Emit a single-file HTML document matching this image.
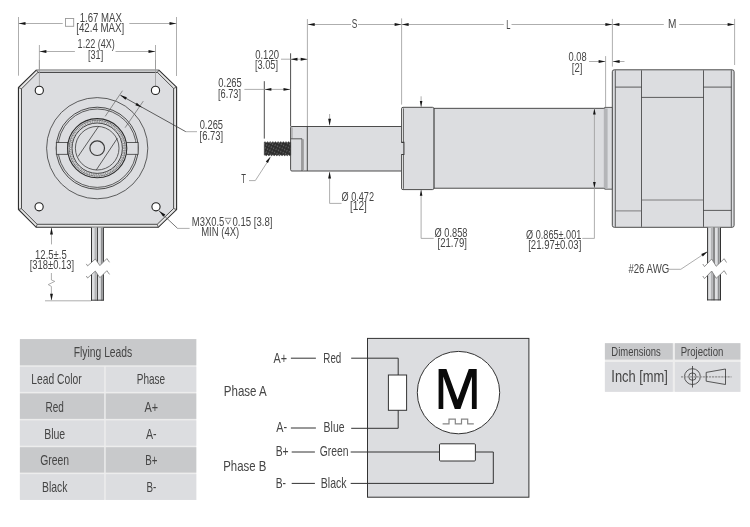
<!DOCTYPE html><html><head><meta charset="utf-8"><style>html,body{margin:0;padding:0;background:#fff;}svg{display:block;}text{font-family:"Liberation Sans",sans-serif;}svg{will-change:transform;}</style></head><body>
<svg width="750" height="527" viewBox="0 0 750 527">
<line x1="18.5" y1="17" x2="18.5" y2="75.7" stroke="#999999" stroke-width="0.8"/>
<line x1="176.5" y1="17" x2="176.5" y2="76" stroke="#999999" stroke-width="0.8"/>
<line x1="39.4" y1="45" x2="39.4" y2="86" stroke="#999999" stroke-width="0.8"/>
<line x1="155.5" y1="45" x2="155.5" y2="86" stroke="#999999" stroke-width="0.8"/>
<line x1="18.5" y1="23.5" x2="62.7" y2="23.5" stroke="#999999" stroke-width="0.8"/>
<line x1="129.3" y1="23.5" x2="176.5" y2="23.5" stroke="#999999" stroke-width="0.8"/>
<polygon points="18.70,23.50 25.50,22.05 25.50,24.95" fill="#151515"/>
<polygon points="176.30,23.50 169.50,24.95 169.50,22.05" fill="#151515"/>
<rect x="65.5" y="18.5" width="8.2" height="7.8" fill="none" stroke="#999999" stroke-width="0.9"/>
<text x="79.7" y="21.65" font-size="12.2" text-anchor="start" fill="#454545" textLength="42.2" lengthAdjust="spacingAndGlyphs">1.67 MAX</text>
<text x="76.2" y="32.2" font-size="12.2" text-anchor="start" fill="#454545" textLength="48.1" lengthAdjust="spacingAndGlyphs">[42.4 MAX]</text>
<line x1="39.4" y1="51.5" x2="74.9" y2="51.5" stroke="#999999" stroke-width="0.8"/>
<line x1="115.5" y1="51.5" x2="155.5" y2="51.5" stroke="#999999" stroke-width="0.8"/>
<polygon points="39.60,51.50 46.40,50.05 46.40,52.95" fill="#151515"/>
<polygon points="155.30,51.50 148.50,52.95 148.50,50.05" fill="#151515"/>
<text x="77.6" y="48.1" font-size="12.2" text-anchor="start" fill="#454545" textLength="37.3" lengthAdjust="spacingAndGlyphs">1.22 (4X)</text>
<text x="88" y="58.7" font-size="12.2" text-anchor="start" fill="#454545" textLength="15.2" lengthAdjust="spacingAndGlyphs">[31]</text>
<polygon points="36.5,69.9 158.6,69.9 176.6,87.2 176.6,209.6 158.3,227.3 36.2,227.3 18.45,209.4 18.45,87.6" fill="#e6e6e6"/>
<polygon points="36.5,69.7 158.6,69.7 157.6,72.5 37.8,72.5" fill="#c6c7c9"/>
<polyline points="36.5,69.9 18.45,87.6 18.45,209.4 36.2,227.3 158.3,227.3 176.6,209.6 176.6,87.2 158.6,69.9" fill="none" stroke="#2e2e2e" stroke-width="1.1" stroke-linejoin="miter"/>
<line x1="36.5" y1="69.9" x2="158.6" y2="69.9" stroke="#8c8c8c" stroke-width="1.0"/>
<polygon points="37.8,72.5 157.6,72.5 173.6,88.4 173.6,208.5 157.2,224.3 37.1,224.3 21.5,208.7 21.5,88.8" fill="#dcdde0" stroke="#3a3a3a" stroke-width="0.9"/>
<line x1="36.5" y1="69.9" x2="37.8" y2="72.5" stroke="#444" stroke-width="0.8"/>
<line x1="158.6" y1="69.9" x2="157.6" y2="72.5" stroke="#444" stroke-width="0.8"/>
<line x1="176.6" y1="87.2" x2="173.6" y2="88.4" stroke="#444" stroke-width="0.8"/>
<line x1="176.6" y1="209.6" x2="173.6" y2="208.5" stroke="#444" stroke-width="0.8"/>
<line x1="158.3" y1="227.3" x2="157.2" y2="224.3" stroke="#444" stroke-width="0.8"/>
<line x1="36.2" y1="227.3" x2="37.1" y2="224.3" stroke="#444" stroke-width="0.8"/>
<line x1="18.45" y1="209.4" x2="21.5" y2="208.7" stroke="#444" stroke-width="0.8"/>
<line x1="18.45" y1="87.6" x2="21.5" y2="88.8" stroke="#444" stroke-width="0.8"/>
<line x1="39.4" y1="60" x2="39.4" y2="86" stroke="#999999" stroke-width="0.8"/>
<line x1="155.5" y1="60" x2="155.5" y2="86" stroke="#999999" stroke-width="0.8"/>
<circle cx="39.3" cy="90.4" r="4.1" fill="#fff" stroke="#222" stroke-width="1.1"/>
<circle cx="155.5" cy="90.4" r="4.1" fill="#fff" stroke="#222" stroke-width="1.1"/>
<circle cx="39.1" cy="206.8" r="4.1" fill="#fff" stroke="#222" stroke-width="1.1"/>
<circle cx="156" cy="206.8" r="4.1" fill="#fff" stroke="#222" stroke-width="1.1"/>
<circle cx="97.2" cy="148.2" r="50.6" fill="none" stroke="#3a3a3a" stroke-width="0.8"/>
<circle cx="97.2" cy="148.2" r="41" fill="none" stroke="#3a3a3a" stroke-width="0.9"/>
<circle cx="97.2" cy="148.2" r="39.2" fill="none" stroke="#3a3a3a" stroke-width="0.8"/>
<rect x="56.3" y="142.5" width="11.5" height="11.8" fill="#dcdde0" stroke="#3a3a3a" stroke-width="0.8"/>
<rect x="126.6" y="142.5" width="11.5" height="11.8" fill="#dcdde0" stroke="#3a3a3a" stroke-width="0.8"/>
<circle cx="97.2" cy="148.2" r="29.6" fill="#dcdde0" stroke="#2e2e2e" stroke-width="1.1"/>
<circle cx="97.2" cy="148.2" r="27.9" fill="none" stroke="#333" stroke-width="0.9" stroke-dasharray="1.2 0.5"/>
<circle cx="97.2" cy="148.2" r="26.5" fill="none" stroke="#8a8a8a" stroke-width="1.3" stroke-dasharray="0.9 0.9"/>
<circle cx="97.2" cy="148.2" r="25.2" fill="none" stroke="#333" stroke-width="0.9"/>
<circle cx="97.2" cy="148.2" r="21.8" fill="none" stroke="#3a3a3a" stroke-width="0.8"/>
<circle cx="97.2" cy="148.2" r="7.3" fill="none" stroke="#3a3a3a" stroke-width="1.2"/>
<line x1="78.0" y1="156.6" x2="98.6" y2="126.4" stroke="#3a3a3a" stroke-width="0.8"/>
<line x1="96.2" y1="170.1" x2="117.4" y2="138.2" stroke="#3a3a3a" stroke-width="0.8"/>
<line x1="105.2" y1="116.4" x2="122.5" y2="90.7" stroke="#666" stroke-width="0.7"/>
<line x1="125.1" y1="127.7" x2="143.3" y2="101.1" stroke="#666" stroke-width="0.7"/>
<line x1="120.5" y1="95.3" x2="185.8" y2="131.7" stroke="#3a3a3a" stroke-width="0.8"/>
<line x1="185.8" y1="131.7" x2="197" y2="131.7" stroke="#999999" stroke-width="0.8"/>
<polygon points="120.20,95.10 126.84,97.15 125.43,99.68" fill="#151515"/>
<polygon points="142.00,107.40 135.36,105.35 136.77,102.82" fill="#151515"/>
<text x="199.7" y="128.9" font-size="12.4" text-anchor="start" fill="#454545" textLength="23.3" lengthAdjust="spacingAndGlyphs">0.265</text>
<text x="199.6" y="139.5" font-size="12.4" text-anchor="start" fill="#454545" textLength="23.6" lengthAdjust="spacingAndGlyphs">[6.73]</text>
<line x1="158.9" y1="210.8" x2="177.6" y2="228.4" stroke="#555" stroke-width="0.8"/>
<line x1="177.6" y1="228.4" x2="189.6" y2="228.4" stroke="#999999" stroke-width="0.8"/>
<polygon points="159.20,210.90 165.33,214.60 163.27,216.79" fill="#151515"/>
<text x="191.8" y="225.7" font-size="12.2" text-anchor="start" fill="#454545" textLength="32.5" lengthAdjust="spacingAndGlyphs">M3X0.5</text>
<path d="M224.9,218.3 h6.4 M225.6,219.6 l2.5,4.6 l2.5,-4.6" fill="none" stroke="#6a6a6a" stroke-width="0.8"/>
<text x="232.4" y="225.7" font-size="12.2" text-anchor="start" fill="#454545" textLength="40.1" lengthAdjust="spacingAndGlyphs">0.15 [3.8]</text>
<text x="201.2" y="236.1" font-size="12.2" text-anchor="start" fill="#454545" textLength="38" lengthAdjust="spacingAndGlyphs">MIN (4X)</text>
<line x1="51.5" y1="228" x2="51.5" y2="244.4" stroke="#999999" stroke-width="0.8"/>
<polygon points="51.50,227.60 52.95,234.40 50.05,234.40" fill="#151515"/>
<text x="50.9" y="259.2" font-size="12.2" text-anchor="middle" fill="#454545" textLength="31.6" lengthAdjust="spacingAndGlyphs">12.5±.5</text>
<text x="51.9" y="269.0" font-size="12.2" text-anchor="middle" fill="#454545" textLength="44.3" lengthAdjust="spacingAndGlyphs">[318±0.13]</text>
<polyline points="51.4,273 51.4,280 54.8,281.4 48.2,284.6 51.4,286.4 51.4,300" fill="none" stroke="#999999" stroke-width="0.8"/>
<polygon points="51.50,300.60 50.05,293.80 52.95,293.80" fill="#151515"/>
<line x1="45" y1="300.8" x2="91" y2="300.8" stroke="#999999" stroke-width="0.8"/>
<clipPath id="cc1"><polygon points="85.1,227.3 111.1,227.3 109.50,262.30 106.90,258.60 99.90,265.60 95.30,259.00 87.60,265.90 86.30,263.90"/><polygon points="86.30,276.00 87.60,278.00 95.30,271.10 99.90,277.70 106.90,270.70 109.50,274.40 111.1,302.6 85.1,302.6"/></clipPath>
<g clip-path="url(#cc1)">
<rect x="91.1" y="227.3" width="6.3" height="73.30000000000001" fill="#dedfe1"/>
<rect x="94.56" y="227.3" width="1.76" height="73.30000000000001" fill="#b3b4b6"/>
<rect x="97.39999999999999" y="227.3" width="6.3" height="73.30000000000001" fill="#dedfe1"/>
<rect x="100.86" y="227.3" width="1.76" height="73.30000000000001" fill="#8e8f91"/>
<line x1="91.5" y1="227.3" x2="91.5" y2="300.6" stroke="#333" stroke-width="1"/>
<line x1="97.39999999999999" y1="227.3" x2="97.39999999999999" y2="300.6" stroke="#333" stroke-width="1"/>
<line x1="103.39999999999999" y1="227.3" x2="103.39999999999999" y2="300.6" stroke="#333" stroke-width="1"/>
<line x1="91.1" y1="300.20000000000005" x2="103.69999999999999" y2="300.20000000000005" stroke="#333" stroke-width="0.9"/>
</g>
<polyline points="86.30,263.90 87.60,265.90 95.30,259.00 99.90,265.60 106.90,258.60 109.50,262.30" fill="none" stroke="#777" stroke-width="0.8"/>
<polyline points="86.30,276.00 87.60,278.00 95.30,271.10 99.90,277.70 106.90,270.70 109.50,274.40" fill="none" stroke="#777" stroke-width="0.8"/>
<line x1="307.4" y1="19" x2="307.4" y2="126.5" stroke="#999999" stroke-width="0.8"/>
<line x1="401.6" y1="18.4" x2="401.6" y2="104.6" stroke="#999999" stroke-width="0.8"/>
<line x1="612.4" y1="18.9" x2="612.4" y2="66.6" stroke="#999999" stroke-width="0.8"/>
<line x1="734.6" y1="18.9" x2="734.6" y2="65" stroke="#999999" stroke-width="0.8"/>
<line x1="307.7" y1="24.5" x2="351" y2="24.5" stroke="#999999" stroke-width="0.8"/>
<line x1="358" y1="24.5" x2="401.6" y2="24.5" stroke="#999999" stroke-width="0.8"/>
<polygon points="307.90,24.50 314.70,23.05 314.70,25.95" fill="#151515"/>
<polygon points="401.40,24.50 394.60,25.95 394.60,23.05" fill="#151515"/>
<text x="354.45" y="28.4" font-size="12.8" text-anchor="middle" fill="#454545" textLength="5.6" lengthAdjust="spacingAndGlyphs">S</text>
<line x1="401.6" y1="24.5" x2="503.8" y2="24.5" stroke="#999999" stroke-width="0.8"/>
<line x1="511.5" y1="24.5" x2="612.4" y2="24.5" stroke="#999999" stroke-width="0.8"/>
<polygon points="401.80,24.50 408.60,23.05 408.60,25.95" fill="#151515"/>
<polygon points="612.20,24.50 605.40,25.95 605.40,23.05" fill="#151515"/>
<text x="508.4" y="28.8" font-size="12.4" text-anchor="middle" fill="#454545" textLength="4.2" lengthAdjust="spacingAndGlyphs">L</text>
<line x1="612.4" y1="24.5" x2="663.8" y2="24.5" stroke="#999999" stroke-width="0.8"/>
<line x1="679.2" y1="24.5" x2="734.6" y2="24.5" stroke="#999999" stroke-width="0.8"/>
<polygon points="612.60,24.50 619.40,23.05 619.40,25.95" fill="#151515"/>
<polygon points="734.40,24.50 727.60,25.95 727.60,23.05" fill="#151515"/>
<text x="672.1" y="28.3" font-size="12.4" text-anchor="middle" fill="#454545" textLength="8.4" lengthAdjust="spacingAndGlyphs">M</text>
<line x1="290.6" y1="53.3" x2="290.6" y2="126.5" stroke="#3a3a3a" stroke-width="0.9"/>
<line x1="281" y1="59.2" x2="307.7" y2="59.2" stroke="#999999" stroke-width="0.8"/>
<polygon points="290.70,59.20 297.50,57.75 297.50,60.65" fill="#151515"/>
<polygon points="307.50,59.20 300.70,60.65 300.70,57.75" fill="#151515"/>
<text x="255.2" y="58.6" font-size="12.2" text-anchor="start" fill="#454545" textLength="23.8" lengthAdjust="spacingAndGlyphs">0.120</text>
<text x="254.9" y="68.9" font-size="12.2" text-anchor="start" fill="#454545" textLength="23.1" lengthAdjust="spacingAndGlyphs">[3.05]</text>
<line x1="264.3" y1="81.2" x2="264.3" y2="138.6" stroke="#3a3a3a" stroke-width="0.9"/>
<line x1="244.4" y1="89.4" x2="290.5" y2="89.4" stroke="#999999" stroke-width="0.8"/>
<polygon points="264.60,89.40 271.40,87.95 271.40,90.85" fill="#151515"/>
<polygon points="290.30,89.40 283.50,90.85 283.50,87.95" fill="#151515"/>
<text x="218.3" y="87.3" font-size="12.2" text-anchor="start" fill="#454545" textLength="23.5" lengthAdjust="spacingAndGlyphs">0.265</text>
<text x="218" y="97.5" font-size="12.2" text-anchor="start" fill="#454545" textLength="23" lengthAdjust="spacingAndGlyphs">[6.73]</text>
<rect x="290.6" y="126.5" width="113" height="44.5" rx="1.3" fill="#dcdde0" stroke="#3a3a3a" stroke-width="0.9"/>
<line x1="292.0" y1="127.5" x2="292.0" y2="138.5" stroke="#9a9a9a" stroke-width="1.0"/>
<path d="M290.8,138.8 H302 V171" fill="none" stroke="#3a3a3a" stroke-width="0.8"/>
<line x1="303.3" y1="139.3" x2="303.3" y2="170.6" stroke="#9c9c9c" stroke-width="1.1"/>
<line x1="307.3" y1="126.5" x2="307.3" y2="171" stroke="#3a3a3a" stroke-width="0.9"/>
<defs><pattern id="thr" width="2.6" height="3.4" patternUnits="userSpaceOnUse" patternTransform="rotate(25)"><rect width="2.6" height="3.4" fill="#2c2c2c"/><ellipse cx="1.3" cy="1.7" rx="0.6" ry="1.1" fill="#626262"/></pattern></defs>
<path d="M264.3,142.2 Q264.96,141.2 265.62,142.2 Q266.27,143.2 266.93,142.2 Q267.59,141.2 268.25,142.2 Q268.90,143.2 269.56,142.2 Q270.22,141.2 270.88,142.2 Q271.53,143.2 272.19,142.2 Q272.85,141.2 273.50,142.2 Q274.16,143.2 274.82,142.2 Q275.48,141.2 276.13,142.2 Q276.79,143.2 277.45,142.2 Q278.11,141.2 278.77,142.2 Q279.42,143.2 280.08,142.2 Q280.74,141.2 281.40,142.2 Q282.05,143.2 282.71,142.2 Q283.37,141.2 284.03,142.2 Q284.68,143.2 285.34,142.2 Q286.00,141.2 286.66,142.2 Q287.31,143.2 287.97,142.2 Q288.63,141.2 289.29,142.2 Q289.94,143.2 290.60,142.2 L290.6,155.2 Q289.94,156.2 289.29,155.2 Q288.63,154.2 287.97,155.2 Q287.31,156.2 286.66,155.2 Q286.00,154.2 285.34,155.2 Q284.68,156.2 284.03,155.2 Q283.37,154.2 282.71,155.2 Q282.05,156.2 281.40,155.2 Q280.74,154.2 280.08,155.2 Q279.42,156.2 278.77,155.2 Q278.11,154.2 277.45,155.2 Q276.79,156.2 276.14,155.2 Q275.48,154.2 274.82,155.2 Q274.16,156.2 273.50,155.2 Q272.85,154.2 272.19,155.2 Q271.53,156.2 270.88,155.2 Q270.22,154.2 269.56,155.2 Q268.90,156.2 268.25,155.2 Q267.59,154.2 266.93,155.2 Q266.27,156.2 265.62,155.2 Q264.96,154.2 264.30,155.2 Z" fill="url(#thr)" stroke="#333" stroke-width="0.6"/>
<polyline points="249,180.6 255.3,180.6 270.3,157.5" fill="none" stroke="#999999" stroke-width="0.8"/>
<polygon points="270.60,156.60 267.98,163.01 265.80,161.59" fill="#151515"/>
<text x="241.2" y="182.6" font-size="12.4" text-anchor="start" fill="#454545" textLength="4.7" lengthAdjust="spacingAndGlyphs">T</text>
<line x1="329.6" y1="114" x2="329.6" y2="125.3" stroke="#999999" stroke-width="0.8"/>
<polygon points="329.60,125.50 328.15,118.70 331.05,118.70" fill="#151515"/>
<polyline points="329.6,172 329.6,203.4 341.5,203.4" fill="none" stroke="#999999" stroke-width="0.8"/>
<polygon points="329.60,171.70 331.05,178.50 328.15,178.50" fill="#151515"/>
<text x="341.5" y="200.6" font-size="12.2" text-anchor="start" fill="#454545" textLength="32.5" lengthAdjust="spacingAndGlyphs">Ø 0.472</text>
<text x="350" y="210.2" font-size="12.2" text-anchor="start" fill="#454545" textLength="16.8" lengthAdjust="spacingAndGlyphs">[12]</text>
<rect x="433.9" y="108.3" width="171" height="79.9" fill="#dcdde0" stroke="#3a3a3a" stroke-width="0.9"/>
<path d="M604.7,107.4 H612.5 V189.2 H604.7 Z" fill="#dcdde0" stroke="#3a3a3a" stroke-width="0.8"/>
<rect x="603.8" y="108.5" width="3.8" height="79.8" fill="#b4b5b8"/>
<rect x="401.5" y="107.3" width="32.4" height="82.3" rx="1.5" fill="#dcdde0" stroke="#3a3a3a" stroke-width="0.9"/>
<rect x="401.9" y="108.6" width="1.5" height="80" fill="#ececec"/>
<rect x="400.9" y="142.4" width="2.7" height="12.1" fill="#dcdde0"/>
<path d="M403.4,108.4 V142.4 M403.4,154.5 V188.8" fill="none" stroke="#3a3a3a" stroke-width="0.8"/>
<path d="M401.3,142.4 H403.9 V154.5 H401.3" fill="none" stroke="#3a3a3a" stroke-width="1.1"/>
<line x1="421.1" y1="96.3" x2="421.1" y2="106.9" stroke="#999999" stroke-width="0.8"/>
<polygon points="421.10,107.10 419.80,101.10 422.40,101.10" fill="#151515"/>
<polyline points="421.1,190 421.1,238.4 433.7,238.4" fill="none" stroke="#999999" stroke-width="0.8"/>
<polygon points="421.10,189.80 422.40,195.80 419.80,195.80" fill="#151515"/>
<text x="434.6" y="237.3" font-size="12.2" text-anchor="start" fill="#454545" textLength="32.9" lengthAdjust="spacingAndGlyphs">Ø 0.858</text>
<text x="437.5" y="247.3" font-size="12.2" text-anchor="start" fill="#454545" textLength="29.4" lengthAdjust="spacingAndGlyphs">[21.79]</text>
<line x1="594.4" y1="108.5" x2="594.4" y2="188" stroke="#999999" stroke-width="0.8"/>
<polygon points="594.40,108.60 595.75,114.40 593.05,114.40" fill="#151515"/>
<polygon points="594.40,187.90 593.05,182.10 595.75,182.10" fill="#151515"/>
<polyline points="594.4,188 594.4,238.4 582.3,238.4" fill="none" stroke="#999999" stroke-width="0.8"/>
<text x="581.3" y="238.7" font-size="12.2" text-anchor="end" fill="#454545" textLength="55.2" lengthAdjust="spacingAndGlyphs">Ø 0.865±.001</text>
<text x="581.3" y="248.7" font-size="12.2" text-anchor="end" fill="#454545" textLength="53.1" lengthAdjust="spacingAndGlyphs">[21.97±0.03]</text>
<line x1="605.6" y1="56.1" x2="605.6" y2="107.1" stroke="#999999" stroke-width="0.8"/>
<line x1="589" y1="61.5" x2="605.6" y2="61.5" stroke="#999999" stroke-width="0.8"/>
<line x1="612.6" y1="61.5" x2="624.5" y2="61.5" stroke="#999999" stroke-width="0.8"/>
<polygon points="605.40,61.50 598.60,62.95 598.60,60.05" fill="#151515"/>
<polygon points="612.80,61.50 619.60,60.05 619.60,62.95" fill="#151515"/>
<text x="568.5" y="60.9" font-size="12.2" text-anchor="start" fill="#454545" textLength="18.1" lengthAdjust="spacingAndGlyphs">0.08</text>
<text x="571.8" y="71.8" font-size="12.2" text-anchor="start" fill="#454545" textLength="10.6" lengthAdjust="spacingAndGlyphs">[2]</text>
<rect x="612.3" y="69.8" width="121.8" height="157.5" rx="2" fill="#dcdde0" stroke="#3a3a3a" stroke-width="0.9"/>
<line x1="615.3" y1="70.3" x2="615.3" y2="226.8" stroke="#3a3a3a" stroke-width="0.8"/>
<line x1="641.5" y1="70.3" x2="641.5" y2="226.8" stroke="#3a3a3a" stroke-width="0.8"/>
<line x1="703.5" y1="70.3" x2="703.5" y2="226.8" stroke="#3a3a3a" stroke-width="0.8"/>
<line x1="731.3" y1="70.3" x2="731.3" y2="226.8" stroke="#3a3a3a" stroke-width="0.8"/>
<line x1="615.3" y1="87.1" x2="641.5" y2="87.1" stroke="#3a3a3a" stroke-width="0.8"/>
<line x1="703.5" y1="87.1" x2="731.3" y2="87.1" stroke="#3a3a3a" stroke-width="0.8"/>
<line x1="641.5" y1="97.4" x2="703.5" y2="97.4" stroke="#3a3a3a" stroke-width="0.8"/>
<line x1="641.5" y1="200" x2="703.5" y2="200" stroke="#666" stroke-width="0.8"/>
<line x1="615.3" y1="210.9" x2="641.5" y2="210.9" stroke="#666" stroke-width="0.8"/>
<line x1="703.5" y1="210.4" x2="731.3" y2="210.4" stroke="#3a3a3a" stroke-width="0.8"/>
<clipPath id="cc2"><polygon points="701.2,227.3 727.2,227.3 726.50,262.50 724.20,258.70 716.20,266.30 711.70,259.00 704.50,266.60 702.80,264.00"/><polygon points="702.80,276.00 704.50,278.60 711.70,271.00 716.20,278.30 724.20,270.70 726.50,274.50 727.2,302.3 701.2,302.3"/></clipPath>
<g clip-path="url(#cc2)">
<rect x="707.2" y="227.3" width="6.8" height="73.0" fill="#dedfe1"/>
<rect x="710.94" y="227.3" width="1.90" height="73.0" fill="#b3b4b6"/>
<rect x="714.0" y="227.3" width="6.8" height="73.0" fill="#dedfe1"/>
<rect x="717.74" y="227.3" width="1.90" height="73.0" fill="#8e8f91"/>
<line x1="707.6" y1="227.3" x2="707.6" y2="300.3" stroke="#333" stroke-width="1"/>
<line x1="714.0" y1="227.3" x2="714.0" y2="300.3" stroke="#333" stroke-width="1"/>
<line x1="720.5000000000001" y1="227.3" x2="720.5000000000001" y2="300.3" stroke="#333" stroke-width="1"/>
<line x1="707.2" y1="299.90000000000003" x2="720.8000000000001" y2="299.90000000000003" stroke="#333" stroke-width="0.9"/>
</g>
<polyline points="702.80,264.00 704.50,266.60 711.70,259.00 716.20,266.30 724.20,258.70 726.50,262.50" fill="none" stroke="#777" stroke-width="0.8"/>
<polyline points="702.80,276.00 704.50,278.60 711.70,271.00 716.20,278.30 724.20,270.70 726.50,274.50" fill="none" stroke="#777" stroke-width="0.8"/>
<polyline points="668.8,269.3 680.8,269.3 707.2,251.8" fill="none" stroke="#999999" stroke-width="0.8"/>
<polygon points="707.70,251.50 702.82,256.45 701.22,254.03" fill="#151515"/>
<text x="628.4" y="272.8" font-size="12.4" text-anchor="start" fill="#454545" textLength="40.8" lengthAdjust="spacingAndGlyphs">#26 AWG</text>
<rect x="19.9" y="339.1" width="176.4" height="160.8" fill="#ededed"/>
<rect x="19.9" y="339.1" width="176.4" height="26.19999999999999" fill="#c8c9cb"/>
<rect x="19.9" y="366.8" width="84.3" height="25.099999999999966" fill="#dcdde0"/>
<rect x="105.7" y="366.8" width="90.6" height="25.099999999999966" fill="#dcdde0"/>
<rect x="19.9" y="393.4" width="84.3" height="25.5" fill="#c8c9cb"/>
<rect x="105.7" y="393.4" width="90.6" height="25.5" fill="#c8c9cb"/>
<rect x="19.9" y="420.4" width="84.3" height="25.30000000000001" fill="#dcdde0"/>
<rect x="105.7" y="420.4" width="90.6" height="25.30000000000001" fill="#dcdde0"/>
<rect x="19.9" y="447.2" width="84.3" height="25.400000000000034" fill="#c8c9cb"/>
<rect x="105.7" y="447.2" width="90.6" height="25.400000000000034" fill="#c8c9cb"/>
<rect x="19.9" y="474.1" width="84.3" height="25.799999999999955" fill="#dcdde0"/>
<rect x="105.7" y="474.1" width="90.6" height="25.799999999999955" fill="#dcdde0"/>
<text x="103" y="357.3" font-size="14.4" text-anchor="middle" fill="#454545" textLength="58.6" lengthAdjust="spacingAndGlyphs">Flying Leads</text>
<text x="56.4" y="384.4" font-size="14.4" text-anchor="middle" fill="#454545" textLength="50.4" lengthAdjust="spacingAndGlyphs">Lead Color</text>
<text x="151" y="384.2" font-size="14.4" text-anchor="middle" fill="#454545" textLength="28.4" lengthAdjust="spacingAndGlyphs">Phase</text>
<text x="54.7" y="411.9" font-size="14.4" text-anchor="middle" fill="#454545" textLength="18.3" lengthAdjust="spacingAndGlyphs">Red</text>
<text x="151.3" y="411.9" font-size="14.4" text-anchor="middle" fill="#454545" textLength="13.6" lengthAdjust="spacingAndGlyphs">A+</text>
<text x="54.7" y="438.59999999999997" font-size="14.4" text-anchor="middle" fill="#454545" textLength="21.1" lengthAdjust="spacingAndGlyphs">Blue</text>
<text x="151.3" y="438.59999999999997" font-size="14.4" text-anchor="middle" fill="#454545" textLength="10.6" lengthAdjust="spacingAndGlyphs">A-</text>
<text x="54.7" y="465.29999999999995" font-size="14.4" text-anchor="middle" fill="#454545" textLength="28.9" lengthAdjust="spacingAndGlyphs">Green</text>
<text x="151.3" y="465.29999999999995" font-size="14.4" text-anchor="middle" fill="#454545" textLength="12.3" lengthAdjust="spacingAndGlyphs">B+</text>
<text x="54.7" y="492.0" font-size="14.4" text-anchor="middle" fill="#454545" textLength="25.5" lengthAdjust="spacingAndGlyphs">Black</text>
<text x="151.3" y="492.0" font-size="14.4" text-anchor="middle" fill="#454545" textLength="9.8" lengthAdjust="spacingAndGlyphs">B-</text>
<rect x="367.5" y="338.4" width="161.4" height="158.8" fill="#dcdde0" stroke="#333" stroke-width="1"/>
<circle cx="458.5" cy="392.6" r="41.2" fill="#fff" stroke="#333" stroke-width="1"/>
<path d="M438.6,408.9 V369 H446.4 L457.6,399.8 L468.8,369 H476.7 V408.9 H471.9 V376.5 L460.4,408.9 H454.8 L443.3,376.5 V408.9 Z" fill="#0a0a0a"/>
<polyline points="442.6,423.8 449,423.8 449,419.2 455.3,419.2 455.3,423.8 461.5,423.8 461.5,419.2 467.7,419.2 467.7,423.8 473.8,423.8" fill="none" stroke="#858585" stroke-width="1.2"/>
<line x1="290.9" y1="358.2" x2="315.9" y2="358.2" stroke="#333" stroke-width="1"/>
<line x1="351.2" y1="358.2" x2="398.2" y2="358.2" stroke="#333" stroke-width="1"/>
<line x1="398.2" y1="358.2" x2="398.2" y2="375" stroke="#333" stroke-width="1"/>
<rect x="388.4" y="375" width="18.2" height="35.3" fill="#fff" stroke="#333" stroke-width="1"/>
<line x1="398.2" y1="410.3" x2="398.2" y2="428.3" stroke="#333" stroke-width="1"/>
<line x1="351.2" y1="428.3" x2="398.2" y2="428.3" stroke="#333" stroke-width="1"/>
<line x1="290.9" y1="428" x2="315.9" y2="428" stroke="#333" stroke-width="1"/>
<line x1="291.7" y1="452" x2="314.9" y2="452" stroke="#333" stroke-width="1"/>
<line x1="350.7" y1="452" x2="439.5" y2="452" stroke="#333" stroke-width="1"/>
<rect x="439.5" y="443.8" width="35.9" height="17.2" rx="1" fill="#fff" stroke="#333" stroke-width="1"/>
<polyline points="475.4,452 493.3,452 493.3,483.4 350.7,483.4" fill="none" stroke="#333" stroke-width="1"/>
<line x1="291.7" y1="483.4" x2="314.9" y2="483.4" stroke="#333" stroke-width="1"/>
<text x="273.6" y="363.1" font-size="15" text-anchor="start" fill="#454545" textLength="13.5" lengthAdjust="spacingAndGlyphs">A+</text>
<text x="323.3" y="363.1" font-size="15" text-anchor="start" fill="#454545" textLength="18" lengthAdjust="spacingAndGlyphs">Red</text>
<text x="276.3" y="432.2" font-size="15" text-anchor="start" fill="#454545" textLength="10.8" lengthAdjust="spacingAndGlyphs">A-</text>
<text x="323.6" y="432.2" font-size="15" text-anchor="start" fill="#454545" textLength="20.9" lengthAdjust="spacingAndGlyphs">Blue</text>
<text x="275.7" y="456.4" font-size="15" text-anchor="start" fill="#454545" textLength="13" lengthAdjust="spacingAndGlyphs">B+</text>
<text x="319.7" y="456.4" font-size="15" text-anchor="start" fill="#454545" textLength="28.8" lengthAdjust="spacingAndGlyphs">Green</text>
<text x="275.7" y="487.7" font-size="15" text-anchor="start" fill="#454545" textLength="10.3" lengthAdjust="spacingAndGlyphs">B-</text>
<text x="320.8" y="487.7" font-size="15" text-anchor="start" fill="#454545" textLength="25.8" lengthAdjust="spacingAndGlyphs">Black</text>
<text x="223.8" y="395.6" font-size="15" text-anchor="start" fill="#454545" textLength="43" lengthAdjust="spacingAndGlyphs">Phase A</text>
<text x="223.2" y="470.9" font-size="15" text-anchor="start" fill="#454545" textLength="43.1" lengthAdjust="spacingAndGlyphs">Phase B</text>
<rect x="604.9" y="343.2" width="135.5" height="48.6" fill="#ededed"/>
<rect x="604.9" y="343.2" width="67.9" height="16.4" fill="#c8c9cb"/>
<rect x="674.9" y="343.2" width="65.5" height="16.4" fill="#c8c9cb"/>
<rect x="604.9" y="362" width="67.9" height="29.8" fill="#dcdde0"/>
<rect x="674.9" y="362" width="65.5" height="29.8" fill="#dcdde0"/>
<text x="611.3" y="355.8" font-size="12.4" text-anchor="start" fill="#454545" textLength="49.5" lengthAdjust="spacingAndGlyphs">Dimensions</text>
<text x="680.7" y="355.8" font-size="12.4" text-anchor="start" fill="#454545" textLength="42.6" lengthAdjust="spacingAndGlyphs">Projection</text>
<text x="611.3" y="382.3" font-size="17" text-anchor="start" fill="#454545" textLength="56.6" lengthAdjust="spacingAndGlyphs">Inch [mm]</text>
<circle cx="692.4" cy="376.6" r="7.9" fill="none" stroke="#333" stroke-width="0.8"/>
<circle cx="692.4" cy="376.6" r="3.7" fill="none" stroke="#333" stroke-width="0.8"/>
<line x1="692.5" y1="366" x2="692.5" y2="387.5" stroke="#333" stroke-width="0.8"/>
<line x1="681" y1="376.8" x2="731.5" y2="376.8" stroke="#8c8c8c" stroke-width="1.3" stroke-dasharray="2.2 0.9"/>
<polygon points="706.2,372.4 725.5,369 725.5,384.5 706.2,381.2" fill="none" stroke="#333" stroke-width="0.8"/>
</svg></body></html>
